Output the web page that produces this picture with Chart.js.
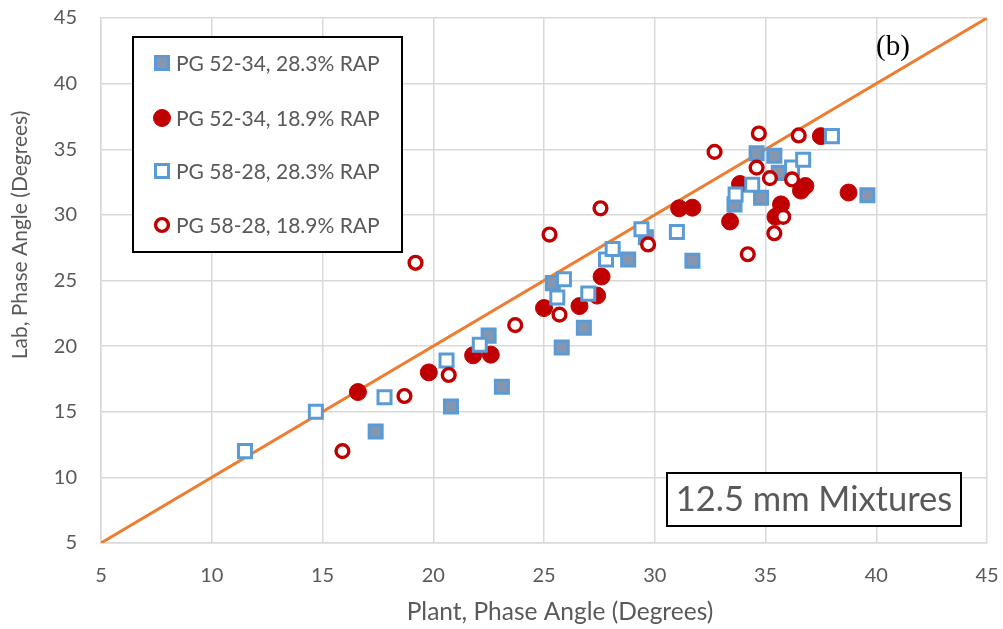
<!DOCTYPE html>
<html>
<head>
<meta charset="utf-8">
<title>Plant vs Lab Phase Angle</title>
<script src="https://cdn.jsdelivr.net/npm/chart.js@4.4.1/dist/chart.umd.min.js"></script>
<style>
    html, body { margin: 0; padding: 0; background: #ffffff; }
    #wrap { width: 1003px; height: 629px; position: relative; }
</style>
</head>
<body>
<div id="wrap"><canvas id="phaseChart" width="1003" height="629"></canvas></div>
<script>
// Phase angle pairs, plant-produced (x) vs lab-produced (y), degrees
const pg5234hiPlant = [17.4, 20.8, 23.1, 22.5, 25.8, 26.8, 25.4, 28.8, 31.7, 29.6, 33.6, 34.8, 35.6, 34.6, 35.4, 39.6];
const pg5234hiLab   = [13.5, 15.4, 16.9, 20.8, 19.9, 21.4, 24.8, 26.6, 26.5, 28.3, 30.8, 31.3, 33.2, 34.7, 34.5, 31.5];

const pg5234loPlant = [16.6, 19.8, 21.8, 22.6, 25.0, 26.6, 27.4, 27.6, 31.1, 31.7, 33.4, 33.85, 35.45, 35.7, 36.6, 36.8, 37.5, 38.75];
const pg5234loLab   = [16.5, 18.0, 19.3, 19.35, 22.9, 23.05, 23.85, 25.3, 30.5, 30.55, 29.5, 32.35, 29.85, 30.8, 31.85, 32.2, 36.0, 31.7];

const pg5828hiPlant = [11.5, 14.7, 17.8, 20.6, 22.1, 25.6, 25.9, 27.0, 27.8, 28.1, 29.4, 31.0, 33.65, 34.4, 36.2, 36.7, 38.0];
const pg5828hiLab   = [12.0, 15.0, 16.1, 18.9, 20.1, 23.7, 25.1, 24.0, 26.6, 27.4, 28.9, 28.7, 31.55, 32.3, 33.6, 34.2, 36.0];

const pg5828loPlant = [15.9, 18.7, 20.7, 19.2, 23.7, 25.7, 25.25, 27.55, 29.7, 32.7, 34.7, 36.5, 34.6, 35.2, 36.2, 34.2, 35.8, 35.4];
const pg5828loLab   = [12.0, 16.2, 17.8, 26.35, 21.6, 22.4, 28.5, 30.5, 27.75, 34.8, 36.2, 36.05, 33.6, 32.8, 32.7, 27.0, 29.85, 28.6];

// line of equality
const equalityLine = [5, 45];

const seriesNames = [
    'PG 52-34, 28.3% RAP',
    'PG 52-34, 18.9% RAP',
    'PG 58-28, 28.3% RAP',
    'PG 58-28, 18.9% RAP'
];

const xTicks = [5, 10, 15, 20, 25, 30, 35, 40, 45];
const yTicks = [5, 10, 15, 20, 25, 30, 35, 40, 45];

const xTitle = 'Plant, Phase Angle (Degrees)';
const yTitle = 'Lab, Phase Angle (Degrees)';
const panelLabel = '(b)';
const boxLabel = '12.5 mm Mixtures';

const BLUE = '#5B9BD5';
const GREYBLUE = '#8496B0';
const RED = '#C00000';
const ORANGE = '#ED7D31';
const TEXT = '#595959';
const GRID = '#D9D9D9';
const FONT = 'Lato, "Open Sans", sans-serif';

function pairs(xs, ys) {
    return xs.map((x, i) => ({ x: x, y: ys[i] }));
}

// Legend box, panel tag, axis titles and note box drawn on top of the plot
const overlayPlugin = {
    id: 'overlay',
    afterDraw(chart) {
        const ctx = chart.ctx;
        ctx.save();

        // axis titles
        ctx.fillStyle = TEXT;
        ctx.textAlign = 'center';
        ctx.textBaseline = 'middle';
        ctx.font = '24.5px ' + FONT;
        ctx.fillText(xTitle, 560, 612);
        ctx.save();
        ctx.translate(20, 235);
        ctx.rotate(-Math.PI / 2);
        ctx.font = '21px ' + FONT;
        ctx.fillText(yTitle, 0, 0);
        ctx.restore();

        // legend
        ctx.fillStyle = '#ffffff';
        ctx.fillRect(133, 37, 269, 215);
        ctx.strokeStyle = '#000000';
        ctx.lineWidth = 2;
        ctx.strokeRect(133, 37, 269, 215);
        const rows = [63, 118, 171, 225];
        chart.data.datasets.slice(1).forEach((ds, i) => {
            ctx.fillStyle = ds.backgroundColor;
            ctx.strokeStyle = ds.borderColor;
            ctx.lineWidth = ds.borderWidth;
            Chart.helpers.drawPoint(ctx, {
                pointStyle: ds.pointStyle,
                radius: ds.pointRadius,
                rotation: 0,
                borderWidth: ds.borderWidth
            }, 162, rows[i]);
            ctx.fillStyle = TEXT;
            ctx.font = '21px ' + FONT;
            ctx.textAlign = 'left';
            ctx.textBaseline = 'middle';
            ctx.fillText(ds.label, 176, rows[i] + 1);
        });

        // panel tag
        ctx.fillStyle = '#000000';
        ctx.font = '29px "Liberation Serif", "Times New Roman", serif';
        ctx.textAlign = 'left';
        ctx.textBaseline = 'middle';
        ctx.fillText(panelLabel, 876, 47);

        // mixture note
        ctx.fillStyle = '#ffffff';
        ctx.fillRect(667, 473, 294, 53);
        ctx.strokeStyle = '#000000';
        ctx.lineWidth = 2;
        ctx.strokeRect(667, 473, 294, 53);
        ctx.fillStyle = TEXT;
        ctx.font = '34.5px ' + FONT;
        ctx.textAlign = 'center';
        ctx.textBaseline = 'middle';
        ctx.fillText(boxLabel, 814, 500);

        ctx.restore();
    }
};

const ctx = document.getElementById('phaseChart').getContext('2d');

new Chart(ctx, {
    type: 'scatter',
    data: {
        datasets: [{
            label: 'Equality',
            data: pairs(equalityLine, equalityLine),
            showLine: true,
            borderColor: ORANGE,
            borderWidth: 3,
            pointRadius: 0,
            order: 5
        }, {
            label: seriesNames[0],
            data: pairs(pg5234hiPlant, pg5234hiLab),
            pointStyle: 'rect',
            pointRadius: 9.2,
            backgroundColor: GREYBLUE,
            borderColor: BLUE,
            borderWidth: 3,
            order: 4
        }, {
            label: seriesNames[1],
            data: pairs(pg5234loPlant, pg5234loLab),
            pointStyle: 'circle',
            pointRadius: 8.5,
            backgroundColor: RED,
            borderColor: RED,
            borderWidth: 1,
            order: 3
        }, {
            label: seriesNames[2],
            data: pairs(pg5828hiPlant, pg5828hiLab),
            pointStyle: 'rect',
            pointRadius: 9.2,
            backgroundColor: '#ffffff',
            borderColor: BLUE,
            borderWidth: 3,
            order: 2
        }, {
            label: seriesNames[3],
            data: pairs(pg5828loPlant, pg5828loLab),
            pointStyle: 'circle',
            pointRadius: 6.4,
            backgroundColor: '#ffffff',
            borderColor: RED,
            borderWidth: 3.4,
            order: 1
        }]
    },
    options: {
        responsive: false,
        animation: false,
        layout: { padding: { top: 18, right: 16, left: 0, bottom: 0 } },
        plugins: {
            legend: { display: false },
            tooltip: { enabled: false }
        },
        elements: { point: { hoverRadius: 0 } },
        scales: {
            x: {
                type: 'linear',
                min: 5,
                max: 45,
                afterBuildTicks: (scale) => { scale.ticks = xTicks.map(v => ({ value: v })); },
                afterFit: (scale) => {
                    scale.height = 86;
                    scale.paddingLeft = 0;
                    scale.paddingRight = 0;
                },
                grid: { color: GRID, lineWidth: 1.5, drawTicks: false },
                border: { color: GRID, width: 1.5 },
                ticks: { color: TEXT, font: { family: FONT, size: 20 }, padding: 21 }
            },
            y: {
                type: 'linear',
                min: 5,
                max: 45,
                afterBuildTicks: (scale) => { scale.ticks = yTicks.map(v => ({ value: v })); },
                afterFit: (scale) => {
                    scale.width = 101;
                    scale.paddingTop = 0;
                    scale.paddingBottom = 0;
                },
                grid: { color: GRID, lineWidth: 1.5, drawTicks: false },
                border: { color: GRID, width: 1.5 },
                ticks: { color: TEXT, font: { family: FONT, size: 20 }, padding: 24 }
            }
        }
    },
    plugins: [overlayPlugin]
});
</script>
</body>
</html>
